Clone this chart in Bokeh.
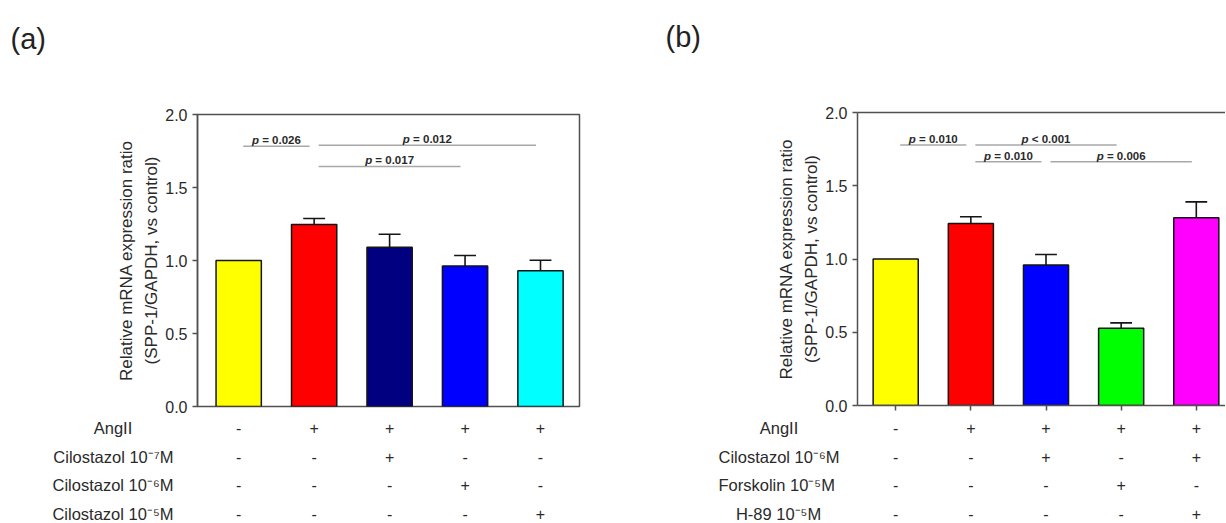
from bokeh.plotting import figure
from bokeh.layouts import row, column
from bokeh.models import Range1d, FixedTicker, PrintfTickFormatter, LinearAxis
from bokeh.core.properties import value
from bokeh.embed import file_html
from bokeh.resources import INLINE

# ---------------- data ----------------
y_ticks = [0.0, 0.5, 1.0, 1.5, 2.0]
y_label_1 = "Relative mRNA expression ratio"
y_label_2 = "(SPP-1/GAPDH, vs control)"

# panel (a)
a_values = [1.000, 1.247, 1.090, 0.963, 0.929]
a_errors = [0.000, 0.041, 0.090, 0.071, 0.073]
a_colors = ["#FFFF00", "#FF0000", "#000080", "#0000FF", "#00FFFF"]
a_sig_left = [0, 1, 1]
a_sig_right = [1, 4, 3]
a_sig_y = [1.783, 1.790, 1.644]
a_sig_text = ["= 0.026", "= 0.012", "= 0.017"]
a_row_labels = ["AngII", "Cilostazol 10\u207b\u2077M", "Cilostazol 10\u207b\u2076M", "Cilostazol 10\u207b\u2075M"]
a_marks = [
    ["-", "+", "+", "+", "+"],
    ["-", "-", "+", "-", "-"],
    ["-", "-", "-", "+", "-"],
    ["-", "-", "-", "-", "+"],
]

# panel (b)
b_values = [1.000, 1.243, 0.959, 0.527, 1.282]
b_errors = [0.000, 0.045, 0.072, 0.037, 0.108]
b_colors = ["#FFFF00", "#FF0000", "#0000FF", "#00FF00", "#FF00FF"]
b_sig_left = [0, 1, 1, 2]
b_sig_right = [1, 3, 2, 4]
b_sig_y = [1.779, 1.779, 1.663, 1.663]
b_sig_text = ["= 0.010", "< 0.001", "= 0.010", "= 0.006"]
b_row_labels = ["AngII", "Cilostazol 10\u207b\u2076M", "Forskolin 10\u207b\u2075M", "H-89 10\u207b\u2075M"]
b_marks = [
    ["-", "+", "+", "+", "+"],
    ["-", "-", "+", "-", "+"],
    ["-", "-", "-", "+", "-"],
    ["-", "-", "-", "-", "+"],
]

# ---------------- layout / style ----------------
BAR_H = 414
TAB_H = 108
FONT = "Liberation Sans"
TXT = "#2a2a2a"
AXC = "#505050"
ROW_FS = 16.5
NBSP = "\u00a0"
SUPERS = "\u2070\u00b9\u00b2\u00b3\u2074\u2075\u2076\u2077\u2078\u2079\u207b"

# approximate Arial/Liberation Sans advance widths (em)
_W = {"A": .667, "n": .556, "g": .556, "I": .278, "C": .722, "i": .222, "l": .222,
      "o": .556, "s": .5, "t": .278, "a": .556, "z": .5, " ": .278, "M": .833,
      "F": .611, "r": .333, "k": .5, "H": .722, "-": .333}


def text_w(s, fs):
    tot = 0.0
    for ch in s:
        if ch in SUPERS:
            tot += .333
        elif ch in _W:
            tot += _W[ch]
        elif ch.isdigit():
            tot += .556
        else:
            tot += .5
    return tot * fs


def centred_labels(labels, fs):
    """Pad right-aligned axis labels with no-break spaces so they look centred."""
    ws = [text_w(s, fs) for s in labels]
    mw = max(ws)
    sp = _W[" "] * fs
    return [s + NBSP * int(round((mw - w) / 2 / sp)) for s, w in zip(labels, ws)], mw


def make_panel(tag, values, errors, colors, sig_l, sig_r, sig_y, sig_text,
               row_labels, marks, *, fig_left, width, fr_left, fr_right,
               fr_top, fr_bottom, c0, step, tag_x, rowlab_x, boxed):
    n = len(values)
    idx = list(range(n))
    bl = fr_left - fig_left
    br = fig_left + width - fr_right
    bt = fr_top
    bb = BAR_H - fr_bottom

    def X(px):
        return (px - c0) / step

    xr = Range1d(X(fr_left), X(fr_right))
    p = figure(width=width, height=BAR_H, x_range=xr, y_range=Range1d(0, 2),
               output_backend="svg", toolbar_location=None,
               min_border_left=bl, min_border_right=br, min_border_top=bt,
               min_border_bottom=bb, background_fill_color="white",
               border_fill_color="white")
    p.xgrid.visible = False
    p.ygrid.visible = False

    # panel tag as title (second empty line lifts it towards the top)
    p.title.text = tag + "\n"
    p.title.text_font = FONT
    p.title.text_font_size = "29px"
    p.title.text_font_style = "normal"
    p.title.text_color = "#222222"
    p.title.align = "left"
    p.title.vertical_align = "top"
    p.title.offset = tag_x - fr_left
    p.title.standoff = 0
    p.title.text_line_height = 1.8

    ya = p.yaxis[0]
    ya.ticker = FixedTicker(ticks=y_ticks)
    ya.formatter = PrintfTickFormatter(format="%.1f")
    ya.major_tick_out = 5
    ya.major_tick_in = 0
    ya.minor_tick_line_color = None
    ya.axis_line_color = AXC
    ya.axis_line_width = 1.5
    ya.major_tick_line_color = AXC
    ya.major_tick_line_width = 1.5
    ya.major_label_standoff = 5
    ya.major_label_text_font = FONT
    ya.major_label_text_font_size = "16px"
    ya.major_label_text_color = TXT
    ya.axis_label = y_label_2
    ya.axis_label_text_font = FONT
    ya.axis_label_text_font_size = "17px"
    ya.axis_label_text_font_style = "normal"
    ya.axis_label_text_color = TXT
    ya.axis_label_standoff = 1

    ya2 = LinearAxis(ticker=FixedTicker(ticks=[]), axis_line_color=None,
                     major_tick_line_color=None, minor_tick_line_color=None,
                     major_tick_out=0, major_tick_in=0, major_label_standoff=0,
                     axis_label=y_label_1, axis_label_text_font=FONT,
                     axis_label_text_font_size="17px",
                     axis_label_text_font_style="normal",
                     axis_label_text_color=TXT, axis_label_standoff=4)
    p.add_layout(ya2, "left")

    xa = p.xaxis[0]
    if boxed:
        xa.visible = False
        p.outline_line_color = AXC
        p.outline_line_width = 1.5
    else:
        p.outline_line_color = None
        xa.ticker = FixedTicker(ticks=idx)
        xa.major_label_overrides = {i: "" for i in idx}
        xa.major_label_text_font_size = "1px"
        xa.major_label_standoff = 0
        xa.major_tick_out = 5
        xa.major_tick_in = 0
        xa.minor_tick_line_color = None
        xa.axis_line_color = AXC
        xa.axis_line_width = 1.5
        xa.major_tick_line_color = AXC
        xa.major_tick_line_width = 1.5
        top_axis = LinearAxis(ticker=FixedTicker(ticks=[]), axis_line_color=AXC,
                              axis_line_width=1.5, major_tick_line_color=None,
                              minor_tick_line_color=None, major_tick_out=0,
                              major_tick_in=0, major_label_standoff=0)
        p.add_layout(top_axis, "above")

    # bars
    p.vbar(x=idx, top=values, bottom=0, width=0.6, fill_color=colors,
           line_color="#151515", line_width=1.5)

    # error bars (upper only)
    ex = [i for i in idx if errors[i] > 0]
    ey0 = [values[i] for i in ex]
    ey1 = [values[i] + errors[i] for i in ex]
    p.segment(x0=ex, x1=ex, y0=ey0, y1=ey1, line_color="#151515", line_width=1.6)
    p.segment(x0=[i - 0.145 for i in ex], x1=[i + 0.145 for i in ex], y0=ey1, y1=ey1,
              line_color="#151515", line_width=1.6)

    # significance brackets
    inset = 0.06
    p.segment(x0=[l + inset for l in sig_l], x1=[r - inset for r in sig_r],
              y0=sig_y, y1=sig_y, line_color="#a8a8a8", line_width=1.5)
    mids = [(l + r) / 2 for l, r in zip(sig_l, sig_r)]
    fs = 11.5
    half = 4.253 * fs / 2
    p.text(x=mids, y=sig_y, text=["p"] * len(mids), text_font=value(FONT),
           text_font_size="%.1fpx" % fs, text_font_style="bold italic",
           text_color=TXT, text_align="left", text_baseline="alphabetic",
           x_offset=-half, y_offset=-6)
    p.text(x=mids, y=sig_y, text=sig_text, text_font=value(FONT),
           text_font_size="%.1fpx" % fs, text_font_style="bold",
           text_color=TXT, text_align="left", text_baseline="alphabetic",
           x_offset=-half + (0.611 + 0.278) * fs, y_offset=-6)

    # treatment table (frame aligned with the bar frame)
    row_step = 28.5
    first = 13.5
    t = figure(width=width, height=TAB_H, x_range=xr,
               y_range=Range1d((TAB_H - first) / row_step, -first / row_step),
               min_border_left=bl, min_border_right=br, min_border_top=0,
               min_border_bottom=0, toolbar_location=None, output_backend="svg",
               x_axis_type=None, background_fill_color="white",
               border_fill_color="white")
    t.outline_line_color = None
    t.xgrid.visible = False
    t.ygrid.visible = False
    ty = t.yaxis[0]
    rows = list(range(len(row_labels)))
    padded, mw = centred_labels(row_labels, ROW_FS)
    ty.ticker = FixedTicker(ticks=rows)
    ty.major_label_overrides = {r: lab for r, lab in zip(rows, padded)}
    ty.axis_line_color = None
    ty.major_tick_line_color = None
    ty.minor_tick_line_color = None
    ty.major_tick_out = 0
    ty.major_tick_in = 0
    ty.major_label_standoff = int(round(fr_left - (rowlab_x + mw / 2)))
    ty.major_label_text_font = FONT
    ty.major_label_text_font_size = "%.1fpx" % ROW_FS
    ty.major_label_text_color = TXT

    mx, my, mt = [], [], []
    for r, rowm in enumerate(marks):
        for c, m in enumerate(rowm):
            mx.append(c)
            my.append(r)
            mt.append(m)
    t.text(x=mx, y=my, text=mt, text_font=value(FONT), text_font_size="16px",
           text_color=TXT, text_align="center", text_baseline="middle")
    return column(p, t)


panel_a = make_panel("(a)", a_values, a_errors, a_colors, a_sig_left, a_sig_right,
                     a_sig_y, a_sig_text, a_row_labels, a_marks,
                     fig_left=0, width=650, fr_left=197, fr_right=579,
                     fr_top=114, fr_bottom=406, c0=238.2, step=75.45,
                     tag_x=10, rowlab_x=113, boxed=True)
panel_b = make_panel("(b)", b_values, b_errors, b_colors, b_sig_left, b_sig_right,
                     b_sig_y, b_sig_text, b_row_labels, b_marks,
                     fig_left=650, width=575, fr_left=857, fr_right=1225,
                     fr_top=112, fr_bottom=405, c0=895.2, step=75.15,
                     tag_x=665, rowlab_x=779, boxed=False)

layout = row(panel_a, panel_b)
open("out.html", "w").write(file_html(layout, INLINE))
